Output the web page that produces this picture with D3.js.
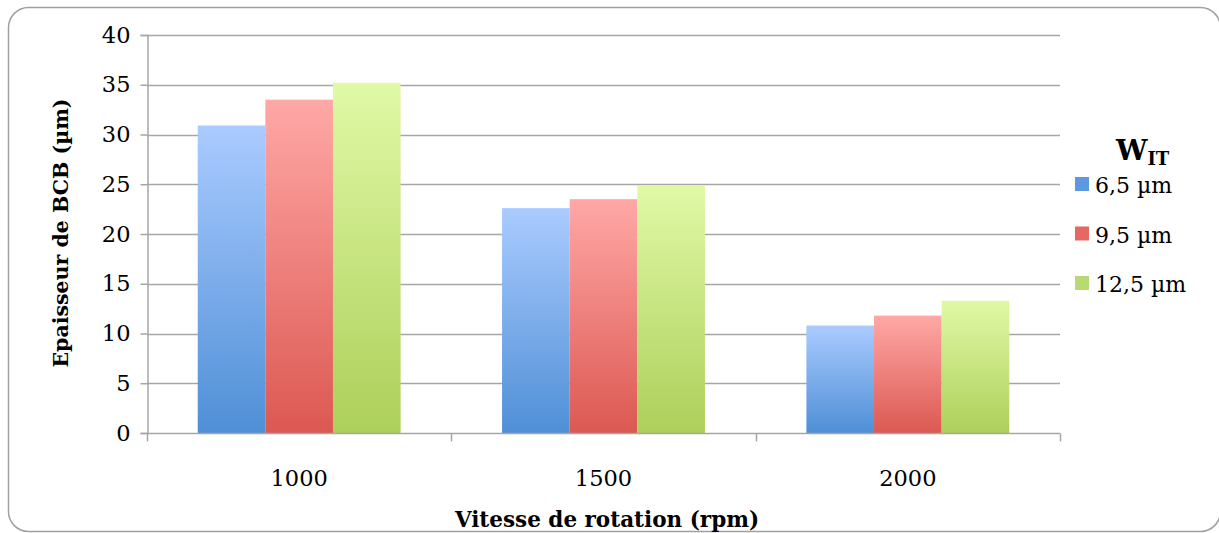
<!DOCTYPE html>
<html>
<head>
<meta charset="utf-8">
<script src="https://cdn.jsdelivr.net/npm/d3@7"></script>
<style>
  html, body { margin: 0; padding: 0; background: #fff; }
  svg { display: block; }
  text { font-family: "DejaVu Serif", "Liberation Serif", serif; fill: #000; }
</style>
</head>
<body>
<svg id="chart" width="1219" height="533"></svg>
<script>
// Spin speeds (rpm) on the x axis
const categories = ["1000", "1500", "2000"];
// Interconnect trench widths, one series each
const seriesNames = ["6,5 µm", "9,5 µm", "12,5 µm"];
// BCB thickness (µm) per speed, for each width
const series65 = [30.9, 22.6, 10.8];
const series95 = [33.5, 23.5, 11.8];
const series125 = [35.2, 24.9, 13.3];
const yTicks = [0, 5, 10, 15, 20, 25, 30, 35, 40];

const seriesValues = [series65, series95, series125];
const gradients = [
  { top: "#aacbff", bottom: "#4f8fd6" },
  { top: "#ffa8a6", bottom: "#dc5852" },
  { top: "#e0f9a6", bottom: "#adcf5a" }
];
const legendColors = ["#5c9ae0", "#e56863", "#b9d977"];

const svg = d3.select("#chart");

// Rounded chart frame
svg.append("rect")
  .attr("x", 8.5).attr("y", 7.5)
  .attr("width", 1212).attr("height", 524)
  .attr("rx", 20).attr("ry", 20)
  .attr("fill", "#fff")
  .attr("stroke", "#a0a0a0").attr("stroke-width", 1.5);

const plot = { left: 147, right: 1060, top: 35, bottom: 433 };

const x0 = d3.scaleBand().domain(categories)
  .range([plot.left, plot.right]).paddingInner(0).paddingOuter(0);
const x1 = d3.scaleBand().domain(d3.range(seriesNames.length))
  .range([0, x0.bandwidth()]).paddingInner(0).paddingOuter(0.75);
const y = d3.scaleLinear().domain([0, 40]).range([plot.bottom, plot.top]);

// Vertical gradients for the bar fills
const defs = svg.append("defs");
gradients.forEach((g, i) => {
  const lg = defs.append("linearGradient")
    .attr("id", "grad" + i)
    .attr("x1", 0).attr("y1", 0).attr("x2", 0).attr("y2", 1);
  lg.append("stop").attr("offset", "0%").attr("stop-color", g.top);
  lg.append("stop").attr("offset", "100%").attr("stop-color", g.bottom);
});

// Horizontal gridlines
svg.append("g")
  .selectAll("line")
  .data(yTicks.filter(t => t > 0))
  .join("line")
  .attr("x1", plot.left).attr("x2", plot.right)
  .attr("y1", d => Math.round(y(d)) + 0.5).attr("y2", d => Math.round(y(d)) + 0.5)
  .attr("stroke", "#a6a6a6").attr("stroke-width", 1.5);

// Bars
const groups = svg.append("g")
  .selectAll("g")
  .data(categories)
  .join("g")
  .attr("transform", d => `translate(${x0(d)},0)`);

groups.selectAll("rect")
  .data((c, ci) => seriesValues.map((vals, si) => ({ si, v: vals[ci] })))
  .join("rect")
  .attr("x", d => x1(d.si))
  .attr("width", x1.bandwidth())
  .attr("y", d => y(d.v))
  .attr("height", d => y(0) - y(d.v))
  .attr("fill", d => `url(#grad${d.si})`);

// Y axis
const yAxis = d3.axisLeft(y).tickValues(yTicks).tickSize(7).tickPadding(10);
const yg = svg.append("g")
  .attr("transform", `translate(${plot.left + 0.5},0)`)
  .call(yAxis);
yg.select(".domain").attr("stroke", "#a6a6a6").attr("stroke-width", 1.5);
yg.selectAll(".tick line").attr("stroke", "#a6a6a6").attr("stroke-width", 1.5);
yg.selectAll(".tick text")
  .style("font-family", "'DejaVu Serif', serif")
  .style("font-size", "22.5px").attr("fill", "#000");

// X axis: ticks at category boundaries, labels centred in each band
const xg = svg.append("g").attr("transform", `translate(0,${plot.bottom + 0.5})`);
xg.append("line")
  .attr("x1", plot.left).attr("x2", plot.right)
  .attr("stroke", "#a6a6a6").attr("stroke-width", 1.5);
const boundaries = categories.map(c => x0(c)).concat([x0(categories[categories.length - 1]) + x0.bandwidth()]);
xg.selectAll("line.tk")
  .data(boundaries)
  .join("line")
  .attr("class", "tk")
  .attr("x1", d => Math.round(d) + 0.5).attr("x2", d => Math.round(d) + 0.5)
  .attr("y1", 0).attr("y2", 8)
  .attr("stroke", "#a6a6a6").attr("stroke-width", 1.5);
xg.selectAll("text")
  .data(categories)
  .join("text")
  .attr("x", d => x0(d) + x0.bandwidth() / 2)
  .attr("y", 52)
  .attr("text-anchor", "middle")
  .style("font-size", "22.5px")
  .text(d => d);

// Axis titles
svg.append("text")
  .attr("x", 607).attr("y", 527)
  .attr("text-anchor", "middle")
  .style("font-size", "21.5px").style("font-weight", "bold")
  .text("Vitesse de rotation (rpm)");

svg.append("text")
  .attr("transform", "translate(68,233) rotate(-90)")
  .attr("text-anchor", "middle")
  .style("font-size", "20.5px").style("font-weight", "bold")
  .text("Epaisseur de BCB (µm)");

// Legend
const legend = svg.append("g");
const title = legend.append("text")
  .attr("x", 1116).attr("y", 160)
  .style("font-weight", "bold");
title.append("tspan").style("font-size", "28px").text("W");
title.append("tspan").attr("dy", 5).style("font-size", "18px").text("IT");

const items = legend.selectAll("g.item")
  .data(seriesNames)
  .join("g")
  .attr("class", "item")
  .attr("transform", (d, i) => `translate(1075,${185 + i * 49.5})`);
items.append("rect")
  .attr("x", 0).attr("y", -8)
  .attr("width", 14).attr("height", 14)
  .attr("fill", (d, i) => legendColors[i]);
items.append("text")
  .attr("x", 20).attr("y", 8)
  .style("font-size", "22px")
  .text(d => d);
</script>
</body>
</html>
